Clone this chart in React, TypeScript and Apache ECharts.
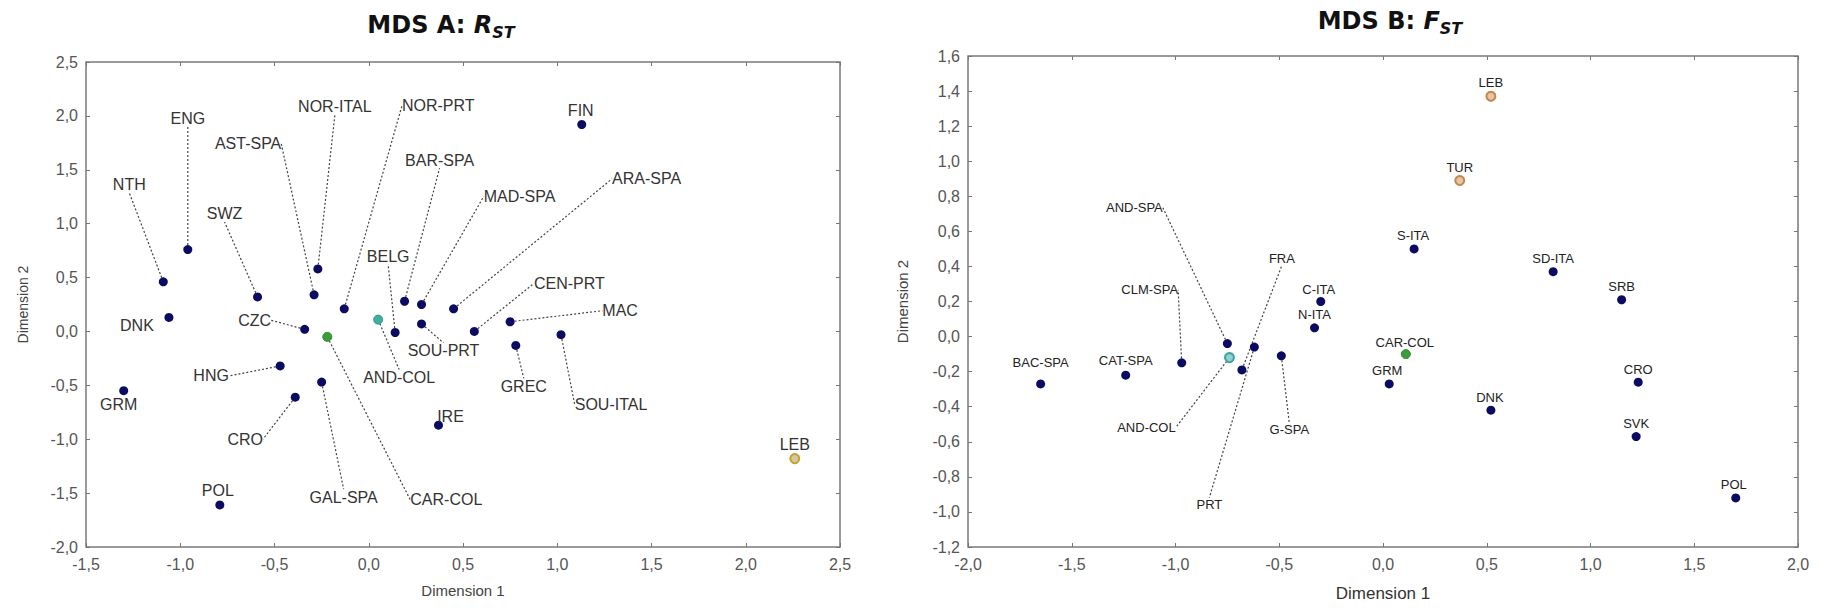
import React, { useEffect, useRef } from "react";
import * as echarts from "echarts";

// ---------- MDS A: R_ST ----------
const namesA = ["FIN", "ENG", "NTH", "SWZ", "AST-SPA", "NOR-ITAL", "NOR-PRT", "BAR-SPA", "MAD-SPA", "ARA-SPA", "BELG", "CEN-PRT", "MAC", "DNK", "CZC", "SOU-PRT", "GREC", "SOU-ITAL", "HNG", "GRM", "GAL-SPA", "CRO", "IRE", "POL", "CAR-COL", "AND-COL", "LEB"];
const dim1A = [1.13, -0.96, -1.09, -0.59, -0.29, -0.27, -0.13, 0.19, 0.28, 0.45, 0.14, 0.56, 0.75, -1.06, -0.34, 0.28, 0.78, 1.02, -0.47, -1.30, -0.25, -0.39, 0.37, -0.79, -0.22, 0.05, 2.26];
const dim2A = [1.92, 0.76, 0.46, 0.32, 0.34, 0.58, 0.21, 0.28, 0.25, 0.21, -0.01, 0.0, 0.09, 0.13, 0.02, 0.07, -0.13, -0.03, -0.32, -0.55, -0.47, -0.61, -0.87, -1.61, -0.05, 0.11, -1.18];
const groupA = ["eu", "eu", "eu", "eu", "eu", "eu", "eu", "eu", "eu", "eu", "eu", "eu", "eu", "eu", "eu", "eu", "eu", "eu", "eu", "eu", "eu", "eu", "eu", "eu", "car", "and", "lebA"];

// ---------- MDS B: F_ST ----------
const namesB = ["LEB", "TUR", "S-ITA", "SD-ITA", "SRB", "C-ITA", "N-ITA", "CAR-COL", "GRM", "DNK", "CRO", "SVK", "POL", "BAC-SPA", "CAT-SPA", "CLM-SPA", "AND-SPA", "AND-COL", "FRA", "PRT", "G-SPA"];
const dim1B = [0.52, 0.37, 0.15, 0.82, 1.15, -0.3, -0.33, 0.11, 0.03, 0.52, 1.23, 1.22, 1.7, -1.65, -1.24, -0.97, -0.75, -0.74, -0.68, -0.62, -0.49];
const dim2B = [1.37, 0.89, 0.5, 0.37, 0.21, 0.2, 0.05, -0.1, -0.27, -0.42, -0.26, -0.57, -0.92, -0.27, -0.22, -0.15, -0.04, -0.12, -0.19, -0.06, -0.11];
const groupB = ["me", "me", "eu", "eu", "eu", "eu", "eu", "car", "eu", "eu", "eu", "eu", "eu", "eu", "eu", "eu", "eu", "andB", "eu", "eu", "eu"];

// axis ranges (tick labels are generated from these with a comma decimal)
const xRangeA = [-1.5, 2.5, 0.5];
const yRangeA = [-2.0, 2.5, 0.5];
const xRangeB = [-2.0, 2.0, 0.5];
const yRangeB = [-1.2, 1.6, 0.2];

// label placement (layout only): offset of the label centre from the point, in px; and whether a leader line is drawn
const labelOffsetA: number[][] = [[-1, -14], [0, -131], [-34, -97], [-33, -83], [-66, -151], [17, -162], [94, -203], [35, -141], [98, -108], [193, -130], [-7, -76], [95, -48], [110, -11], [-32, 8], [-50, -9], [22, 27], [8, 41], [50, 70], [-69, 10], [-5, 14], [22, 115], [-50, 42], [12, -9], [-2, -14], [119, 163], [21, 58], [0, -14]];
const leaderA = [false, true, true, true, true, true, true, true, true, true, true, true, true, false, true, true, true, true, true, false, true, true, false, false, true, true, false];
const labelOffsetB: number[][] = [[0, -14], [0, -13], [-1, -13], [0, -13], [0, -13], [-2, -12], [0, -13], [-1, -12], [-2, -13], [-1, -13], [0, -13], [0, -13], [-2, -13], [0, -21], [0, -15], [-32, -73], [-93, -136], [-83, 70], [40, -111], [-45, 157], [8, 74]];
const leaderB = [false, false, false, false, false, false, false, false, false, false, false, false, false, false, false, true, true, true, true, true, true];

const FONT = "'Liberation Sans', Arial, sans-serif";

const groupStyle: Record<string, any> = {
  eu: { color: "#0b0b62", opacity: 1 },
  car: { color: "#3c9c3c", borderColor: "#2f8a2f", borderWidth: 1, opacity: 1 },
  and: { color: "#3fae9f", borderColor: "#2f9486", borderWidth: 1, opacity: 1 },
  andB: { color: "#8fd3cc", borderColor: "#3aa3a0", borderWidth: 2, opacity: 1 },
  lebA: { color: "#cfc9a8", borderColor: "#c9a227", borderWidth: 2, opacity: 1 },
  me: { color: "#e3c6a6", borderColor: "#c6864a", borderWidth: 2, opacity: 1 },
};

const fmt = (v: number) => v.toFixed(1).replace(".", ",");

function buildData(names: string[], xs: number[], ys: number[], groups: string[], leaders: boolean[]) {
  return names.map((n, i) => ({
    name: n,
    value: [xs[i], ys[i]],
    itemStyle: groupStyle[groups[i]],
    labelLine: { show: leaders[i] },
  }));
}

function axesFor(grid: number, xr: number[], yr: number[], labelSize: number) {
  const tick = { show: true, inside: true, length: 4, lineStyle: { color: "#777", width: 1 } };
  const common = {
    gridIndex: grid,
    axisLine: { show: false, onZero: false },
    splitLine: { show: false },
    axisTick: tick,
  };
  const label = { show: true, color: "#555", fontSize: labelSize, fontFamily: FONT, formatter: fmt };
  return {
    x: [
      { ...common, type: "value", position: "bottom", min: xr[0], max: xr[1], interval: xr[2], axisLabel: { ...label, margin: 9 } },
      { ...common, type: "value", position: "top", min: xr[0], max: xr[1], interval: xr[2], axisLabel: { show: false } },
    ],
    y: [
      { ...common, type: "value", position: "left", min: yr[0], max: yr[1], interval: yr[2], axisLabel: { ...label, margin: 8 } },
      { ...common, type: "value", position: "right", min: yr[0], max: yr[1], interval: yr[2], axisLabel: { show: false } },
    ],
  };
}

export default function App() {
  const ref = useRef<HTMLDivElement>(null);
  useEffect(() => {
    if (!ref.current) return;
    const chart = echarts.init(ref.current, undefined, { renderer: "svg" });
    const axA = axesFor(0, xRangeA, yRangeA, 16);
    const axB = axesFor(1, xRangeB, yRangeB, 16);
    axA.x[0] = { ...axA.x[0], name: "Dimension 1", nameLocation: "middle", nameGap: 36, nameTextStyle: { fontSize: 15, color: "#444", fontFamily: FONT } } as any;
    axA.y[0] = { ...axA.y[0], name: "Dimension 2", nameLocation: "middle", nameGap: 56, nameTextStyle: { fontSize: 14, color: "#444", fontFamily: FONT } } as any;
    axB.x[0] = { ...axB.x[0], name: "Dimension 1", nameLocation: "middle", nameGap: 38, nameTextStyle: { fontSize: 17, color: "#333", fontFamily: FONT } } as any;
    axB.y[0] = { ...axB.y[0], name: "Dimension 2", nameLocation: "middle", nameGap: 58, nameTextStyle: { fontSize: 15, color: "#444", fontFamily: FONT } } as any;

    const leaderStyle = { color: "#444", width: 1.2, type: [2, 2] };
    const titleRich = (sz: number) => ({
      a: { fontSize: sz, fontWeight: "bold", fontFamily: "'DejaVu Sans', sans-serif", fill: "#111", lineHeight: 30 },
      r: { fontSize: sz, fontWeight: "bold", fontStyle: "italic", fontFamily: "'DejaVu Sans', sans-serif", fill: "#111", lineHeight: 30 },
      s: { fontSize: 16, fontWeight: "bold", fontStyle: "italic", fontFamily: "'DejaVu Sans', sans-serif", fill: "#111", lineHeight: 18, verticalAlign: "bottom" },
    });

    chart.setOption({
      animation: false,
      backgroundColor: "#ffffff",
      grid: [
        { left: 86, top: 62, width: 754, height: 485, show: true, borderColor: "#7a7a7a", borderWidth: 1.5, backgroundColor: "transparent" },
        { left: 968, top: 56, width: 830, height: 491, show: true, borderColor: "#7a7a7a", borderWidth: 1.5, backgroundColor: "transparent" },
      ],
      xAxis: [...axA.x, ...axB.x],
      yAxis: [...axA.y, ...axB.y],
      graphic: [
        { type: "text", x: 441, y: 25, style: { text: "{a|MDS A: }{r|R}{s|ST}", rich: titleRich(24), align: "center", verticalAlign: "middle" } },
        { type: "text", x: 1390, y: 21, style: { text: "{a|MDS B: }{r|F}{s|ST}", rich: titleRich(24), align: "center", verticalAlign: "middle" } },
      ],
      series: [
        {
          type: "scatter",
          xAxisIndex: 0,
          yAxisIndex: 0,
          symbolSize: 9,
          data: buildData(namesA, dim1A, dim2A, groupA, leaderA),
          label: { show: true, position: "inside", formatter: "{b}", fontSize: 16, color: "#333", fontFamily: FONT },
          labelLine: { show: true, lineStyle: leaderStyle },
          labelLayout: (p: any) => ({ dx: labelOffsetA[p.dataIndex][0], dy: labelOffsetA[p.dataIndex][1] }),
          z: 3,
        },
        {
          type: "scatter",
          xAxisIndex: 2,
          yAxisIndex: 2,
          symbolSize: 9,
          data: buildData(namesB, dim1B, dim2B, groupB, leaderB),
          label: { show: true, position: "inside", formatter: "{b}", fontSize: 13, color: "#222", fontFamily: FONT },
          labelLine: { show: true, lineStyle: leaderStyle },
          labelLayout: (p: any) => ({ dx: labelOffsetB[p.dataIndex][0], dy: labelOffsetB[p.dataIndex][1] }),
          z: 3,
        },
      ],
    });
    return () => chart.dispose();
  }, []);
  return (
    <div style={{ position: "fixed", left: 0, top: 0, width: 1822, height: 608, background: "#fff" }}>
      <div ref={ref} style={{ width: 1822, height: 608 }} />
    </div>
  );
}
